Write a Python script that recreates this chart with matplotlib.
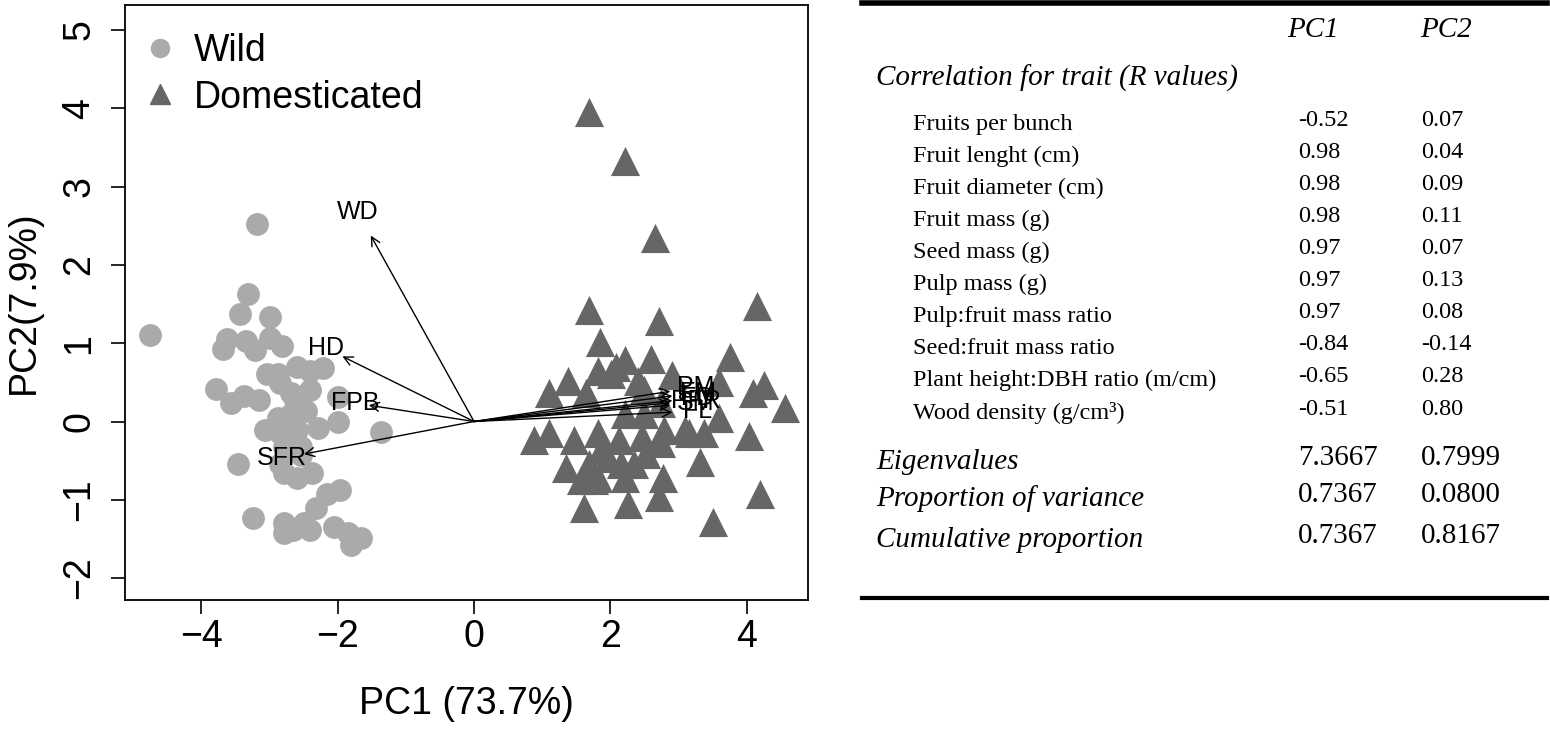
#coding=utf-8
import numpy as np
import matplotlib
matplotlib.use('Agg')
from matplotlib import pyplot as plt
from matplotlib.lines import Line2D

# PCA scores
wild_pc1 = [-3.18, -4.75, -3.31, -3.43, -2.99, -3.62, -3.68, -3.35, -3.21, -2.99,
            -2.81, -3.03, -2.87, -2.59, -2.40, -2.21, -3.79, -3.57, -3.38, -3.16,
            -2.84, -2.69, -2.00, -1.99, -1.37, -2.88, -2.69, -2.47, -2.29, -2.84,
            -2.59, -2.79, -2.54, -3.46, -2.84, -2.59, -2.37, -2.79, -2.15, -1.96,
            -2.32, -3.24, -2.79, -2.65, -2.50, -2.06, -1.85, -1.66, -1.81, -2.79,
            -2.40, -2.54, -3.06, -2.40, -2.62]
wild_pc2 = [2.52, 1.10, 1.63, 1.37, 1.33, 1.06, 0.93, 1.03, 0.91, 1.07,
            0.97, 0.61, 0.61, 0.69, 0.65, 0.68, 0.42, 0.24, 0.33, 0.27,
            0.49, 0.36, 0.31, -0.01, -0.14, 0.05, 0.10, 0.14, -0.08, -0.15,
            -0.11, -0.33, -0.33, -0.54, -0.54, -0.72, -0.66, -0.66, -0.92, -0.88,
            -1.10, -1.23, -1.30, -1.39, -1.30, -1.35, -1.43, -1.49, -1.58, -1.43,
            -1.39, -0.43, -0.11, 0.40, 0.27]

dom_pc1 = [1.69, 2.21, 2.66, 1.69, 2.72, 4.15, 1.85, 3.75, 1.82, 2.21,
           2.60, 2.09, 1.38, 1.10, 1.65, 2.41, 2.90, 3.60, 4.26, 4.10,
           4.56, 3.60, 0.88, 1.10, 1.46, 1.82, 2.12, 2.46, 2.75, 3.15,
           3.38, 4.03, 1.35, 1.68, 1.97, 2.35, 2.53, 2.78, 3.31, 1.57,
           1.82, 2.21, 1.62, 2.26, 2.71, 4.19, 3.51, 2.50, 2.01, 2.16,
           1.87, 2.79, 2.50, 2.21, 1.76, 3.09, 2.75]
dom_pc2 = [3.95, 3.33, 2.34, 1.42, 1.29, 1.48, 1.01, 0.82, 0.65, 0.78,
           0.80, 0.69, 0.52, 0.36, 0.36, 0.52, 0.59, 0.50, 0.46, 0.36,
           0.17, 0.05, -0.24, -0.15, -0.24, -0.15, -0.24, -0.20, -0.27, -0.15,
           -0.15, -0.18, -0.59, -0.54, -0.46, -0.54, -0.41, -0.72, -0.52, -0.75,
           -0.72, -0.72, -1.10, -1.05, -0.97, -0.92, -1.29, 0.40, 0.61, -0.54,
           -0.37, -0.11, 0.10, 0.10, -0.75, -0.11, 0.23]

# trait correlations (table) and arrow labels
traits = ['Fruits per bunch', 'Fruit lenght (cm)', 'Fruit diameter (cm)',
          'Fruit mass (g)', 'Seed mass (g)', 'Pulp mass (g)',
          'Pulp:fruit mass ratio', 'Seed:fruit mass ratio',
          'Plant height:DBH ratio (m/cm)', 'Wood density (g/cm\u00b3)']
abbrev = ['FPB', 'FL', 'FD', 'FM', 'SM', 'PM', 'PFR', 'SFR', 'HD', 'WD']
r_pc1 = [-0.52, 0.98, 0.98, 0.98, 0.97, 0.97, 0.97, -0.84, -0.65, -0.51]
r_pc2 = [0.07, 0.04, 0.09, 0.11, 0.07, 0.13, 0.08, -0.14, 0.28, 0.80]

summary_rows = ['Eigenvalues', 'Proportion of variance', 'Cumulative proportion']
summary_pc1 = ['7.3667', '0.7367', '0.7367']
summary_pc2 = ['0.7999', '0.0800', '0.8167']

arrow_scale = 2.97
label_scale = 3.35

wild_col = '#AAAAAA'
dom_col = '#666666'
sans = 'Liberation Sans'
serif = 'Liberation Serif'

fig = plt.figure(figsize=(15.5, 7.29), dpi=100)
W, H = 1550, 729

ax = fig.add_axes([125 / W, 1 - 600 / H, 683 / W, 595 / H])
ax.scatter(wild_pc1, wild_pc2, s=270, c=wild_col, marker='o', linewidths=0, zorder=2)
ax.scatter(dom_pc1, dom_pc2, s=440, c=dom_col, marker='^', linewidths=0, zorder=2)

for i in range(len(abbrev)):
    ax.annotate('', xy=(arrow_scale * r_pc1[i], arrow_scale * r_pc2[i]), xytext=(0, 0),
                arrowprops=dict(arrowstyle='->', color='black', lw=1.0,
                                mutation_scale=16, shrinkA=0, shrinkB=0),
                zorder=3)
    ax.text(label_scale * r_pc1[i], label_scale * r_pc2[i], abbrev[i],
            ha='center', va='center', fontsize=18, family=sans, zorder=4)

ax.set_xlim(-5.12, 4.90)
ax.set_ylim(-2.28, 5.32)
ax.set_xticks([-4, -2, 0, 2, 4])
ax.set_yticks([-2, -1, 0, 1, 2, 3, 4, 5])
ax.tick_params(axis='both', length=10, width=1.2, labelsize=27, direction='out')
ax.tick_params(axis='x', pad=4)
ax.tick_params(axis='y', pad=10)
for lab in ax.get_yticklabels():
    lab.set_rotation(90)
    lab.set_va('center')
for lab in ax.get_xticklabels() + ax.get_yticklabels():
    lab.set_family(sans)
for sp in ax.spines.values():
    sp.set_linewidth(1.3)
ax.set_xlabel('PC1 (73.7%)', fontsize=27, family=sans, labelpad=22)
ax.set_ylabel('PC2(7.9%)', fontsize=27, family=sans, labelpad=14)

handles = [Line2D([], [], marker='o', color=wild_col, ls='none', markersize=13),
           Line2D([], [], marker='^', color=dom_col, ls='none', markersize=15)]
ax.legend(handles, ['Wild', 'Domesticated'], loc='upper left', frameon=False,
          bbox_to_anchor=(0.007, 0.978),
          prop={'family': sans, 'size': 27}, handletextpad=0.5, labelspacing=0.28,
          borderaxespad=0, handlelength=0.8)

# table on the right
tx = fig.add_axes([0, 0, 1, 1])
tx.set_xlim(0, W)
tx.set_ylim(H, 0)
tx.axis('off')
tx.plot([862, 1547], [3, 3], color='black', lw=4)
tx.plot([862, 1547], [598, 598], color='black', lw=3)

tx.text(1287, 30, 'PC1', family=serif, style='italic', fontsize=21, va='center')
tx.text(1420, 30, 'PC2', family=serif, style='italic', fontsize=21, va='center')
tx.text(876, 78, 'Correlation for trait (R values)', family=serif, style='italic',
        fontsize=21, va='center')

row_y = np.linspace(124, 413, len(traits))
for i in range(len(traits)):
    tx.text(913, row_y[i], traits[i], family=serif, fontsize=17.5, va='center')
    tx.text(1298, row_y[i] - 4, '%.2f' % r_pc1[i], family=serif, fontsize=17.5, va='center')
    tx.text(1421, row_y[i] - 4, '%.2f' % r_pc2[i], family=serif, fontsize=17.5, va='center')

sum_y = [462, 499, 540]
for i in range(len(summary_rows)):
    tx.text(876, sum_y[i], summary_rows[i], family=serif, style='italic', fontsize=21, va='center')
    tx.text(1298, sum_y[i] - 4, summary_pc1[i], family=serif, fontsize=21, va='center')
    tx.text(1421, sum_y[i] - 4, summary_pc2[i], family=serif, fontsize=21, va='center')

plt.savefig('out.png', dpi=100)
